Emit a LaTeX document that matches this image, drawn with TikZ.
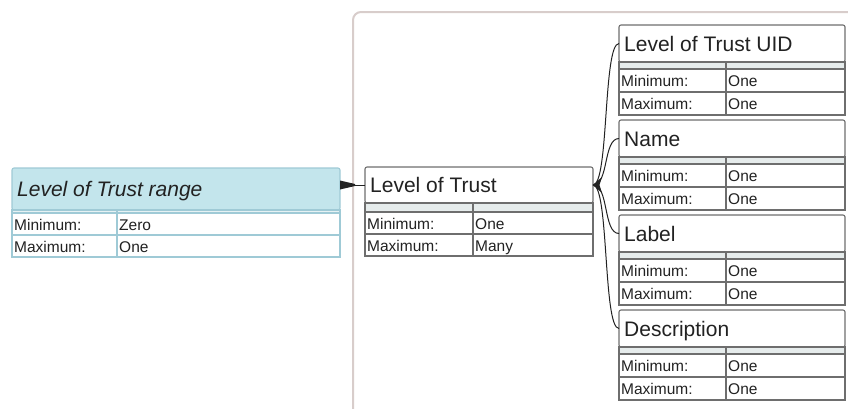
\documentclass[tikz,border=0pt]{standalone}
\usepackage{fontspec}
\setmainfont{Liberation Sans}
\usetikzlibrary{calc}

\definecolor{frame}{HTML}{D8CDCB}
\definecolor{grline}{HTML}{6E6E6E}
\definecolor{grgap}{HTML}{E6ECEC}
\definecolor{cyhead}{HTML}{C3E5EC}
\definecolor{cyline}{HTML}{9FCAD6}
\definecolor{cygap}{HTML}{E6F2F4}
\definecolor{ink}{HTML}{222222}

\tikzset{
  ebox/.style={draw=eline, line width=1.1pt, inner sep=0pt, outer sep=0pt, anchor=north west},
  htext/.style={inner sep=0pt, anchor=base west, font=\fontsize{21}{21}\selectfont, text=ink},
  rtext/.style={inner sep=0pt, anchor=base west, font=\fontsize{15.5}{15.5}\selectfont, text=ink},
  conn/.style={draw=ink, line width=1pt},
}

% entity table: #1 name, #2 left, #3 top, #4 width, #5 header height,
% #6 spacer height, #7 title, #8 minimum, #9 maximum
\newcommand\drawentity[9]{%
  \node[ebox, fill=ehead, rounded corners=2pt, minimum width=#4, minimum height=#5] (#1) at (#2,#3) {};
  \node[htext] (#1-t) at ($(#1.west)+(5,7.5)$) {#7};
  \node[ebox, fill=egap, minimum width=#4, minimum height=#6] (#1-g) at (#1.south west) {};
  \node[ebox, fill=white, minimum width=#4, minimum height=\erow] (#1-min) at (#1-g.south west) {};
  \node[ebox, fill=white, minimum width=#4, minimum height=\erow] (#1-max) at (#1-min.south west) {};
  \draw[draw=eline, line width=1.1pt] ($(#1-g.north west)+(\ecol,0)$) -- ($(#1-max.south west)+(\ecol,0)$);
  \node[rtext] (#1-ml) at ($(#1-min.west)+(2,6)$) {Minimum:};
  \node[rtext] (#1-mv) at ($(#1-min.west)+(\ecol,6)+(2,0)$) {#8};
  \node[rtext] (#1-xl) at ($(#1-max.west)+(2,6)$) {Maximum:};
  \node[rtext] (#1-xv) at ($(#1-max.west)+(\ecol,6)+(2,0)$) {#9};
}

\begin{document}
\begin{tikzpicture}[x=1pt, y=-1pt]
\useasboundingbox (0,0) rectangle (848,408);

% enclosing panel, running off the right and bottom
\begin{scope}
  \clip (0,0) rectangle (848,408);
  \draw[frame, line width=2pt, rounded corners=8pt] (353,12) rectangle (880,440);
\end{scope}

% range entity
\colorlet{eline}{cyline}\colorlet{ehead}{cyhead}\colorlet{egap}{cygap}
\def\erow{22}\def\ecol{105}
\drawentity{lt}{12}{168}{328}{42}{3}{\itshape Level of Trust range}{Zero}{One}

% main entity
\colorlet{eline}{grline}\colorlet{ehead}{white}\colorlet{egap}{grgap}
\def\erow{22}\def\ecol{108}
\drawentity{mid}{365}{167}{228}{36}{9}{Level of Trust}{One}{Many}

% attribute entities
\def\erow{23}\def\ecol{107}
\drawentity{uid}{619}{25}{226}{37}{7}{Level of Trust UID}{One}{One}
\drawentity{nm}{619}{120}{226}{37}{7}{Name}{One}{One}
\drawentity{lb}{619}{215}{226}{37}{7}{Label}{One}{One}
\drawentity{ds}{619}{310}{226}{37}{7}{Description}{One}{One}

% range -> main
\draw[conn] (mid.west) -- (mid.west -| lt.east);
\fill[ink] ($(mid.west -| lt.east)+(0,-4.5)$) -- ($(mid.west -| lt.east)+(0,4.5)$) -- ($(mid.west -| lt.east)+(15,1)$) -- ($(mid.west -| lt.east)+(15,-1)$) -- cycle;

% main -> attributes (crow's foot)
\draw[conn] (mid.east) .. controls +(16,0) and +(-16,0) .. (uid.west);
\draw[conn] (mid.east) .. controls +(16,0) and +(-16,0) .. (nm.west);
\draw[conn] (mid.east) .. controls +(16,0) and +(-16,0) .. (lb.west);
\draw[conn] (mid.east) .. controls +(16,0) and +(-16,0) .. (ds.west);
\fill[ink] (mid.east) -- ++(9,-8) -- ++(-2.5,8) -- ++(2.5,8) -- cycle;
\end{tikzpicture}
\end{document}
